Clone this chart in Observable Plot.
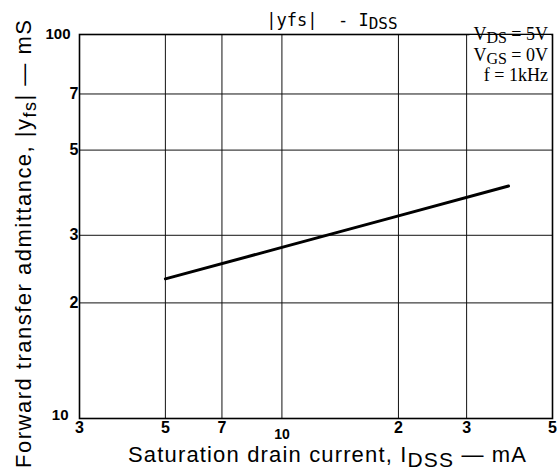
<!DOCTYPE html>
<html>
<head>
<meta charset="utf-8">
<script src="https://cdn.jsdelivr.net/npm/d3@7"></script>
<script src="https://cdn.jsdelivr.net/npm/@observablehq/plot@0.6"></script>
<style>
  html, body { margin: 0; padding: 0; background: #fff; }
  #chart svg { display: block; }
</style>
</head>
<body>
<div id="chart"></div>
<script>
// Data (log-log)
const idss = [5, 10, 20, 38.5];          // mA
const yfs = [23.1, 27.9, 33.7, 40.3];     // mS
const xTicks = [3, 5, 7, 10, 20, 30, 50];
const xTickLabels = ["3", "5", "7", "10", "2", "3", "5"];
const yTicks = [10, 20, 30, 50, 70, 100];
const yTickLabels = ["10", "2", "3", "5", "7", "100"];
const xGrid = [5, 7, 10, 20, 30];
const yGrid = [20, 30, 50, 70];

const points = idss.map((x, i) => ({x, y: yfs[i]}));
const xt = xTicks.map((v, i) => ({v, label: xTickLabels[i]}));
const yt = yTicks.map((v, i) => ({v, label: yTickLabels[i]}));

const tickFont = "'Liberation Sans Narrow', 'Liberation Sans', Arial, sans-serif";

const plot = Plot.plot({
  width: 557,
  height: 473,
  marginLeft: 79,
  marginRight: 5,
  marginTop: 34,
  marginBottom: 55,
  style: {background: "#fff", color: "#000"},
  x: {type: "log", domain: [3, 50], axis: null},
  y: {type: "log", domain: [10, 100], axis: null},
  marks: [
    Plot.ruleX(xGrid, {stroke: "#111", strokeWidth: 1}),
    Plot.ruleY(yGrid, {stroke: "#111", strokeWidth: 1}),
    Plot.frame({stroke: "#000", strokeWidth: 1.6}),
    Plot.line(points, {x: "x", y: "y", stroke: "#000", strokeWidth: 3}),
    // x tick labels
    Plot.text(xt.filter(d => d.v !== 10), {x: "v", y: () => 10, text: "label", lineAnchor: "top", dy: 3, fontSize: 16, fontWeight: "bold", fontFamily: tickFont, fill: "#000"}),
    Plot.text(xt.filter(d => d.v === 10), {x: "v", y: () => 10, text: "label", lineAnchor: "top", dy: 11, fontSize: 14, fontWeight: "bold", fontFamily: tickFont, fill: "#000"}),
    // y tick labels
    Plot.text(yt.filter(d => d.v !== 10 && d.v !== 100), {x: () => 3, y: "v", text: "label", textAnchor: "end", dx: -1, fontSize: 16, fontWeight: "bold", fontFamily: tickFont, fill: "#000"}),
    Plot.text(yt.filter(d => d.v === 100), {x: () => 3, y: "v", text: "label", textAnchor: "end", dx: -9, fontSize: 15, fontWeight: "bold", fontFamily: tickFont, fill: "#000"}),
    Plot.text(yt.filter(d => d.v === 10), {x: () => 3, y: "v", text: "label", textAnchor: "end", dx: -11, dy: -3, fontSize: 15, fontWeight: "bold", fontFamily: tickFont, fill: "#000"})
  ]
});

document.getElementById("chart").appendChild(plot);

const svg = d3.select(plot);
const sx = plot.scale("x"), sy = plot.scale("y");
const pLeft = sx.apply(3), pRight = sx.apply(50), pTop = sy.apply(100), pBottom = sy.apply(10);

// Title
const title = svg.append("text")
  .attr("x", 332).attr("y", 26)
  .attr("text-anchor", "middle")
  .attr("font-family", "'DejaVu Sans Mono', 'Liberation Mono', monospace")
  .attr("font-size", 17).attr("fill", "#000");
title.append("tspan").text("|yfs|  - I");
title.append("tspan").attr("dy", 3).attr("font-size", 16).text("DSS");

// Conditions annotation (white box behind)
const ann = svg.append("g");
const annFont = "'Liberation Serif', 'DejaVu Serif', serif";
const lines = [
  {v: "V", sub: "DS", rest: " = 5V"},
  {v: "V", sub: "GS", rest: " = 0V"},
  {v: "f", sub: "", rest: " = 1kHz"}
];
const baselines = [pTop + 6, pTop + 27, pTop + 47];
const annG = ann.append("g");
lines.forEach((l, i) => {
  const t = annG.append("text")
    .attr("x", pRight - 4).attr("y", baselines[i])
    .attr("text-anchor", "end")
    .attr("font-family", annFont).attr("font-size", 18).attr("fill", "#000");
  t.append("tspan").text(l.v);
  if (l.sub) {
    t.append("tspan").attr("dy", 3).attr("font-size", 16).text(l.sub);
    t.append("tspan").attr("dy", -3).text(l.rest);
  } else {
    t.append("tspan").text(l.rest);
  }
});
const bb = annG.node().getBBox();
ann.insert("rect", ":first-child")
  .attr("x", bb.x - 4).attr("y", pTop + 1)
  .attr("width", pRight - 1 - (bb.x - 4)).attr("height", baselines[2] + 4 - pTop)
  .attr("fill", "#fff");

// X axis label
const xl = svg.append("text")
  .attr("x", 327).attr("y", 462)
  .attr("text-anchor", "middle")
  .attr("font-family", "'Liberation Sans', Arial, sans-serif")
  .attr("font-size", 22).attr("fill", "#000")
  .attr("textLength", 398).attr("lengthAdjust", "spacing");
xl.append("tspan").text("Saturation drain current, I");
xl.append("tspan").attr("dy", 5).attr("font-size", 21).text("DSS");
xl.append("tspan").attr("dy", -5).text(" \u2014 mA");

// Y axis label
const yl = svg.append("text")
  .attr("transform", `translate(31, ${(18 + 470) / 2}) rotate(-90)`)
  .attr("text-anchor", "middle")
  .attr("font-family", "'Liberation Sans', Arial, sans-serif")
  .attr("font-size", 22).attr("fill", "#000")
  .attr("textLength", 448).attr("lengthAdjust", "spacing");
yl.append("tspan").text("Forward transfer admittance, |y");
yl.append("tspan").attr("dy", 5).attr("font-size", 18).text("fs");
yl.append("tspan").attr("dy", -5).text("| \u2014 mS");
</script>
</body>
</html>
